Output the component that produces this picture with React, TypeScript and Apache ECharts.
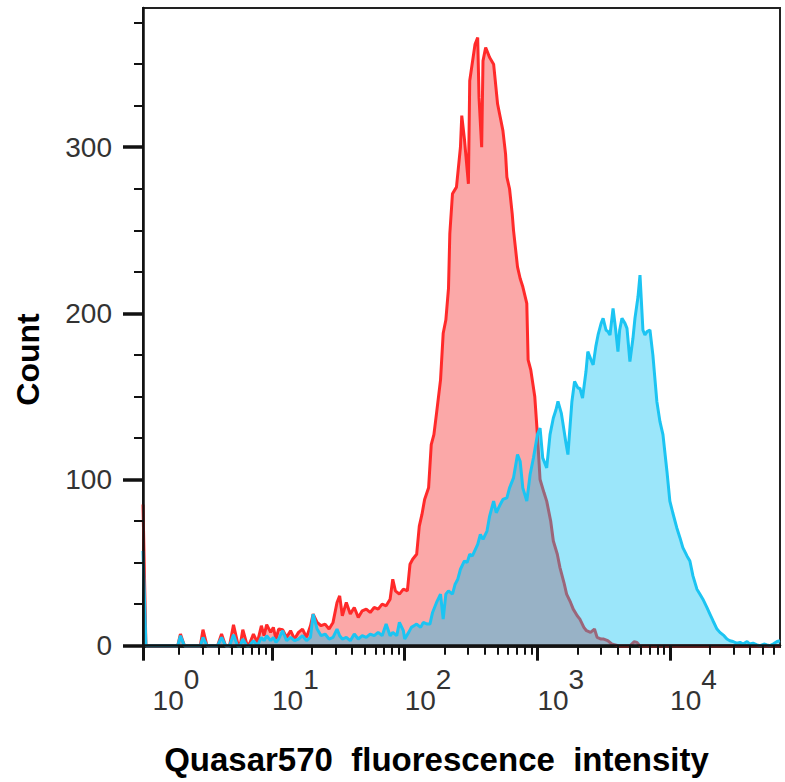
import React, { useEffect, useRef } from "react";
import * as echarts from "echarts";

// x values are log10(fluorescence intensity), y values are counts
const X_MIN = 0.028;
const X_MAX = 4.828;
const Y_MIN = -0.8;
const Y_MAX = 383.8;

const redData: [number, number][] = [
  [0.028, 85], [0.05, 0], [0.29, 0], [0.31, 7], [0.34, 0], [0.46, 0], [0.48, 9.6], [0.51, 0],
  [0.59, 0], [0.62, 7], [0.65, 0], [0.68, 0], [0.71, 12.6], [0.74, 2], [0.76, 0], [0.78, 9.6],
  [0.81, 1], [0.83, 1], [0.86, 7], [0.89, 2], [0.92, 12], [0.94, 6], [0.96, 12.7], [0.99, 8],
  [1.01, 11], [1.03, 4], [1.05, 10], [1.08, 9.6], [1.11, 5], [1.14, 9], [1.17, 4], [1.2, 8],
  [1.23, 10], [1.26, 5], [1.29, 12], [1.31, 19], [1.34, 14], [1.37, 12], [1.4, 13], [1.43, 10],
  [1.46, 14], [1.49, 26], [1.51, 30], [1.53, 18], [1.56, 26], [1.59, 19], [1.62, 23], [1.65, 17],
  [1.68, 21], [1.71, 22], [1.74, 20], [1.77, 23], [1.8, 22], [1.83, 25], [1.86, 24], [1.89, 28],
  [1.91, 40], [1.93, 33], [1.96, 31], [1.99, 34], [2.02, 33], [2.04, 49], [2.06, 52], [2.09, 55],
  [2.11, 72], [2.13, 79], [2.15, 88], [2.18, 95], [2.2, 121], [2.22, 127], [2.24, 140], [2.27, 160],
  [2.29, 188], [2.31, 196], [2.33, 215], [2.34, 248], [2.36, 272], [2.39, 276], [2.42, 300], [2.43, 319],
  [2.45, 305], [2.48, 278], [2.49, 340], [2.51, 351], [2.53, 362], [2.55, 366], [2.56, 330], [2.58, 300],
  [2.59, 352], [2.61, 360], [2.62, 358], [2.64, 354], [2.67, 350], [2.68, 342], [2.7, 326], [2.72, 318],
  [2.74, 310], [2.76, 296], [2.77, 282], [2.79, 275], [2.81, 260], [2.82, 250], [2.85, 228], [2.87, 221],
  [2.89, 216], [2.92, 206], [2.93, 172], [2.95, 166], [2.98, 150], [3.0, 127], [3.02, 100], [3.05, 92],
  [3.07, 87], [3.1, 75], [3.12, 63], [3.15, 55], [3.17, 47], [3.2, 38], [3.22, 31], [3.25, 26],
  [3.27, 22], [3.3, 18], [3.32, 16], [3.35, 11], [3.37, 9], [3.4, 8], [3.43, 10], [3.45, 5],
  [3.48, 4], [3.5, 4], [3.53, 3], [3.56, 1], [3.58, 0.6], [3.61, 0], [3.7, 0], [3.73, 2.4],
  [3.75, 2], [3.77, 0], [4.828, 0],
];

const blueData: [number, number][] = [
  [0.028, 57], [0.05, 0], [0.29, 0], [0.31, 6], [0.34, 0], [0.46, 0], [0.48, 5], [0.51, 0],
  [0.59, 0], [0.62, 5], [0.65, 0], [0.68, 0], [0.71, 6.6], [0.74, 0], [0.76, 0], [0.78, 4],
  [0.81, 0], [0.83, 0], [0.86, 3], [0.89, 0], [0.92, 5], [0.94, 3], [0.96, 6], [0.99, 3],
  [1.01, 5], [1.03, 2], [1.05, 4], [1.08, 9], [1.11, 3], [1.14, 5], [1.17, 3], [1.2, 4],
  [1.23, 6], [1.26, 3], [1.29, 5], [1.31, 19], [1.34, 10], [1.37, 6], [1.4, 7], [1.43, 4],
  [1.46, 5], [1.49, 10], [1.51, 6], [1.53, 4], [1.56, 5], [1.59, 3], [1.62, 7], [1.65, 4],
  [1.68, 6], [1.71, 5], [1.74, 7], [1.77, 6], [1.8, 8], [1.83, 6], [1.86, 13], [1.89, 6],
  [1.91, 8], [1.94, 6], [1.96, 14], [1.99, 9], [2.0, 4], [2.03, 8], [2.05, 11], [2.07, 12],
  [2.09, 13], [2.12, 11], [2.14, 14], [2.17, 13], [2.19, 13], [2.21, 20], [2.24, 26], [2.27, 31],
  [2.29, 16], [2.31, 31], [2.33, 33], [2.36, 31], [2.38, 37], [2.4, 40], [2.42, 46], [2.45, 51],
  [2.47, 50], [2.49, 55], [2.51, 54], [2.55, 61], [2.57, 67], [2.59, 64], [2.62, 69], [2.64, 78],
  [2.67, 87], [2.69, 80], [2.72, 85], [2.74, 88], [2.77, 89], [2.79, 95], [2.82, 101], [2.85, 115],
  [2.87, 111], [2.89, 95], [2.92, 87], [2.945, 103], [2.97, 113], [3.0, 127], [3.02, 131], [3.04, 113],
  [3.07, 107], [3.095, 127], [3.12, 137], [3.14, 142], [3.155, 147], [3.18, 140], [3.19, 135], [3.215, 122],
  [3.23, 115], [3.26, 147], [3.28, 159], [3.306, 155], [3.32, 155], [3.34, 149], [3.366, 165], [3.38, 177],
  [3.404, 172], [3.42, 169], [3.44, 180], [3.457, 187], [3.48, 194], [3.495, 197], [3.517, 190], [3.532, 189],
  [3.547, 187], [3.57, 203], [3.59, 190], [3.607, 177], [3.62, 190], [3.637, 197], [3.66, 194], [3.675, 191],
  [3.697, 171], [3.72, 185], [3.735, 197], [3.758, 210], [3.773, 223], [3.795, 190], [3.81, 187], [3.826, 189],
  [3.848, 190], [3.87, 175], [3.9, 147], [3.923, 135], [3.946, 127], [3.976, 105], [3.998, 87], [4.02, 80],
  [4.05, 71], [4.074, 65], [4.096, 59], [4.127, 54], [4.149, 51], [4.172, 42], [4.202, 34], [4.225, 31],
  [4.247, 28], [4.277, 23], [4.3, 19], [4.323, 15], [4.353, 10], [4.375, 8], [4.406, 6], [4.428, 4],
  [4.45, 3], [4.474, 2.5], [4.5, 1.5], [4.527, 2], [4.55, 1], [4.58, 2.5], [4.6, 1], [4.625, 1.5],
  [4.655, 0.5], [4.678, 0], [4.708, 1], [4.73, 0.5], [4.753, 0], [4.776, 1], [4.806, 2.5], [4.828, 3],
];

const xMajorTicks = [X_MIN, 1, 2, 3, 4];
const xLabelPositions = [0.1, 1, 2, 3, 4];
const xLabelExponents = ["0", "1", "2", "3", "4"];
const xMinorMultipliers = [2, 3, 4, 5, 6, 7, 8, 9];
const yMajorTicks = [0, 100, 200, 300];
const yMinorTicks = [25, 50, 75, 125, 150, 175, 225, 250, 275, 325, 350, 375];

const xTitle = "Quasar570  fluorescence  intensity";
const yTitle = "Count";

const FONT = "Liberation Sans, Arial, Helvetica, sans-serif";

export default function App() {
  const ref = useRef<HTMLDivElement>(null);
  useEffect(() => {
    if (!ref.current) return;
    const chart = echarts.init(ref.current, undefined, { renderer: "svg" });
    const xMinorTicks: number[] = [];
    for (let d = 0; d <= 4; d++) {
      for (const m of xMinorMultipliers) {
        const v = d + Math.log10(m);
        if (v > X_MIN && v <= X_MAX) xMinorTicks.push(v);
      }
    }
    const labelStyle = { fontFamily: FONT, fontSize: 28, color: "#333" };
    chart.setOption({
      animation: false,
      backgroundColor: "#fff",
      grid: {
        left: 143,
        right: 5,
        top: 8,
        bottom: 135,
        show: true,
        borderColor: "#222",
        borderWidth: 2,
        backgroundColor: "transparent",
      },
      xAxis: [
        {
          type: "value",
          min: X_MIN,
          max: X_MAX,
          position: "bottom",
          z: 10,
          name: xTitle,
          nameLocation: "middle",
          nameGap: 96,
          nameTextStyle: {
            fontFamily: FONT,
            fontSize: 33,
            fontWeight: "bold",
            color: "#000",
            padding: [0, 50, 0, 0],
          },
          axisLine: { show: true, lineStyle: { color: "#111", width: 2.5 } },
          axisTick: {
            show: true,
            customValues: xMajorTicks,
            length: 15,
            lineStyle: { color: "#111", width: 3 },
          },
          axisLabel: {
            show: true,
            customValues: xLabelPositions,
            align: "left",
            margin: 18,
            formatter: (v: number) => {
              const i = xLabelPositions.findIndex((p) => Math.abs(p - v) < 1e-6);
              return `{b|10}{s|${xLabelExponents[i >= 0 ? i : Math.round(v)]}}`;
            },
            rich: {
              b: { ...labelStyle, padding: [21, 0, 0, 0] },
              s: { ...labelStyle, padding: [0, 0, 21, 0] },
            },
          },
          splitLine: { show: false },
        },
        {
          type: "value",
          min: X_MIN,
          max: X_MAX,
          position: "bottom",
          z: 10,
          axisLine: { show: false },
          axisTick: {
            show: true,
            customValues: xMinorTicks,
            length: 9,
            lineStyle: { color: "#111", width: 2 },
          },
          axisLabel: { show: false },
          splitLine: { show: false },
        },
      ],
      yAxis: [
        {
          type: "value",
          min: Y_MIN,
          max: Y_MAX,
          position: "left",
          z: 10,
          name: yTitle,
          nameLocation: "middle",
          nameRotate: 90,
          nameGap: 99,
          nameTextStyle: {
            fontFamily: FONT,
            fontSize: 32,
            fontWeight: "bold",
            color: "#000",
            padding: [0, 64, 0, 0],
          },
          axisLine: { show: true, lineStyle: { color: "#111", width: 2.5 } },
          axisTick: {
            show: true,
            customValues: yMajorTicks,
            length: 20,
            lineStyle: { color: "#111", width: 3.5 },
          },
          axisLabel: {
            show: true,
            customValues: yMajorTicks,
            margin: 31,
            ...labelStyle,
          },
          splitLine: { show: false },
        },
        {
          type: "value",
          min: Y_MIN,
          max: Y_MAX,
          position: "left",
          z: 10,
          axisLine: { show: false },
          axisTick: {
            show: true,
            customValues: yMinorTicks,
            length: 9,
            lineStyle: { color: "#111", width: 2 },
          },
          axisLabel: { show: false },
          splitLine: { show: false },
        },
      ],
      series: [
        {
          name: "control",
          type: "line",
          data: redData,
          xAxisIndex: 0,
          yAxisIndex: 0,
          showSymbol: false,
          symbol: "none",
          lineStyle: { color: "#ff2a2a", width: 3 },
          areaStyle: { color: "rgba(247,70,70,0.47)", opacity: 1 },
          z: 2,
        },
        {
          name: "stained",
          type: "line",
          data: blueData,
          xAxisIndex: 0,
          yAxisIndex: 0,
          showSymbol: false,
          symbol: "none",
          lineStyle: { color: "#1cc4f2", width: 3 },
          areaStyle: { color: "rgba(5,192,242,0.4)", opacity: 1 },
          z: 3,
        },
      ],
    });
    return () => chart.dispose();
  }, []);
  return (
    <div
      ref={ref}
      style={{ position: "absolute", left: 0, top: 0, width: 785, height: 782, background: "#fff" }}
    />
  );
}
